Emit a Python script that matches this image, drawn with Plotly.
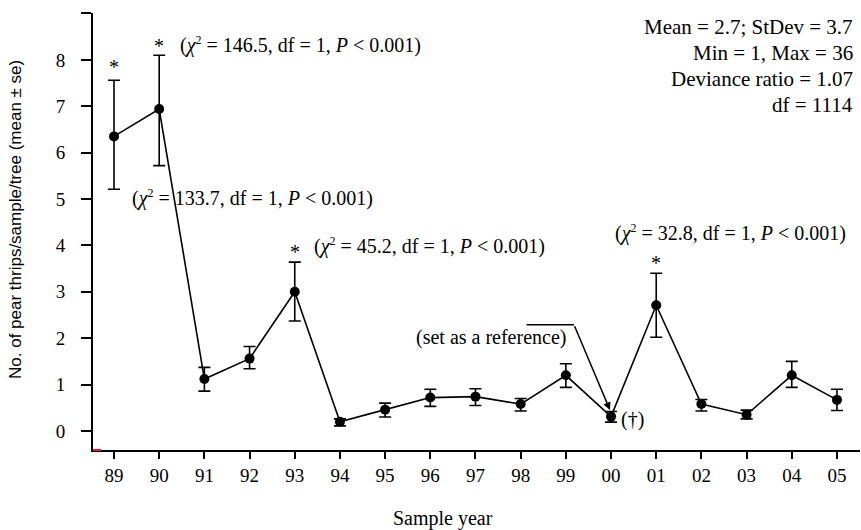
import plotly.graph_objects as go

years = ["89", "90", "91", "92", "93", "94", "95", "96", "97", "98", "99", "00", "01", "02", "03", "04", "05"]
means = [6.35, 6.94, 1.12, 1.56, 3.00, 0.20, 0.46, 0.72, 0.74, 0.58, 1.20, 0.31, 2.71, 0.58, 0.35, 1.20, 0.67]
upper = [7.56, 8.10, 1.37, 1.82, 3.64, 0.26, 0.60, 0.90, 0.91, 0.70, 1.45, 0.42, 3.40, 0.68, 0.45, 1.50, 0.90]
lower = [5.21, 5.72, 0.86, 1.34, 2.37, 0.11, 0.30, 0.53, 0.55, 0.43, 0.94, 0.19, 2.02, 0.43, 0.26, 0.94, 0.44]
yticks = [0, 1, 2, 3, 4, 5, 6, 7, 8, 9]
yticklabels = ["0", "1", "2", "3", "4", "5", "6", "7", "8", ""]
stats_lines = ["Mean = 2.7; StDev = 3.7", "Min = 1, Max = 36", "Deviance ratio = 1.07", "df = 1114"]

xs = list(range(len(years)))
err_plus = [u - m for u, m in zip(upper, means)]
err_minus = [m - l for m, l in zip(means, lower)]

SERIF = "Liberation Serif, Times New Roman, serif"
SANS = "Liberation Sans, Arial, sans-serif"

fig = go.Figure()
fig.add_trace(go.Scatter(
    x=xs, y=means, mode="lines+markers",
    line=dict(color="black", width=1.6),
    marker=dict(color="black", size=10),
    error_y=dict(type="data", symmetric=False, array=err_plus, arrayminus=err_minus,
                 color="black", thickness=1.6, width=6),
    showlegend=False, hoverinfo="skip",
))

def chi(v):
    return (f"(<i>χ</i><sup><span style='font-size:12px'>2</span></sup> = {v}, "
            f"df = 1, <i>P</i> &lt; 0.001)")

ann = []
tf = dict(family=SERIF, size=20, color="black")
sf = dict(family=SERIF, size=21, color="black")
ann.append(dict(x=1.416, y=8.31, text=chi("146.5"), xanchor="left", yanchor="middle", showarrow=False, font=tf))
ann.append(dict(x=0.354, y=5.03, text=chi("133.7"), xanchor="left", yanchor="middle", showarrow=False, font=tf))
ann.append(dict(x=4.375, y=3.99, text=chi("45.2"), xanchor="left", yanchor="middle", showarrow=False, font=tf))
ann.append(dict(x=11.04, y=4.265, text=chi("32.8"), xanchor="left", yanchor="middle", showarrow=False, font=tf))
# stars
for sx, sy in [(0, 7.84), (1, 8.29), (4, 3.85), (12, 3.63)]:
    ann.append(dict(x=sx, y=sy, text="*", xanchor="center", yanchor="middle", showarrow=False, font=tf))
ann.append(dict(x=10.05, y=2.01, text="(set as a reference)", xanchor="right", yanchor="middle", showarrow=False, font=tf))
ann.append(dict(x=11.17, y=0.237, text="(†)", xanchor="left", yanchor="middle", showarrow=False, font=tf))
ann.append(dict(x=10.976, y=0.453, ax=10.18, ay=2.29, axref="x", ayref="y", xref="x", yref="y",
                text="", showarrow=True, arrowhead=2, arrowsize=1, arrowwidth=1.5, arrowcolor="black"))
for i, (line, py) in enumerate(zip(stats_lines, [26.7, 53.3, 79, 105])):
    ann.append(dict(x=(855 - 93) / 767, y=(450 - py) / 437, xref="paper", yref="paper", text=line,
                    xanchor="right", yanchor="middle", showarrow=False, font=sf))
# axis titles
ann.append(dict(x=(443 - 93) / 767, y=(450 - 518) / 437, xref="paper", yref="paper", text="Sample year",
                xanchor="center", yanchor="middle", showarrow=False, font=tf))
ann.append(dict(x=(15 - 93) / 767, y=(450 - 220) / 437, xref="paper", yref="paper",
                text="No. of pear thrips/sample/tree (mean ± se)", textangle=-90,
                xanchor="center", yanchor="middle", showarrow=False,
                font=dict(family=SANS, size=17, color="black")))

fig.update_layout(
    width=861, height=530,
    margin=dict(l=93, r=1, t=13, b=80),
    plot_bgcolor="white", paper_bgcolor="white",
    annotations=ann,
    shapes=[
        dict(type="line", xref="x", yref="y", x0=9.13, x1=10.18, y0=2.29, y1=2.29,
             line=dict(color="black", width=1.5)),
        dict(type="line", xref="paper", yref="paper", x0=0, x1=8 / 767, y0=0, y1=0,
             line=dict(color="#e0202a", width=2)),
    ],
)
fig.update_xaxes(
    range=[-0.465, 16.51], tickvals=xs, ticktext=years,
    showline=True, linecolor="black", linewidth=2, ticks="outside", ticklen=7, tickwidth=1.5,
    tickcolor="black", showgrid=False, zeroline=False,
    tickfont=dict(family=SERIF, size=19, color="black"),
)
fig.update_yaxes(
    range=[-0.41, 9.01], tickvals=yticks, ticktext=yticklabels,
    showline=True, linecolor="black", linewidth=2, ticks="outside", ticklen=10, tickwidth=1.5,
    tickcolor="black", showgrid=False, zeroline=False, ticklabelstandoff=12,
    tickfont=dict(family=SERIF, size=19, color="black"),
)
fig.write_html("out.html", config={"displayModeBar": False},
               post_script="document.body.style.margin='0px';")
